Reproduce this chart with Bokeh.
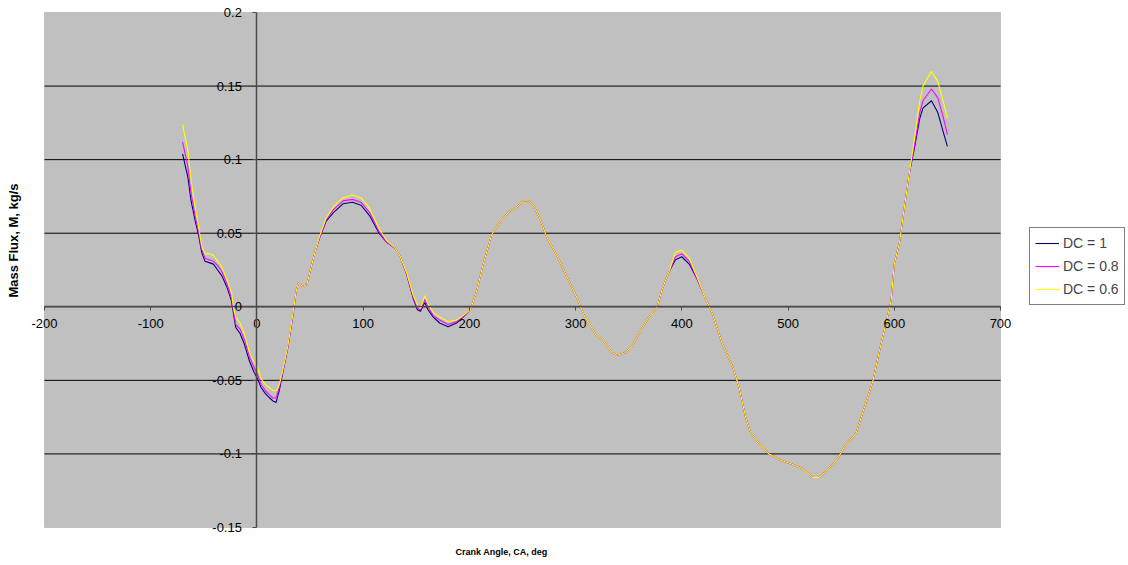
from math import pi
from bokeh.plotting import figure
from bokeh.models import Range1d, FixedTicker, Legend, LegendItem, Label, BoxAnnotation
from bokeh.embed import file_html
from bokeh.resources import INLINE

# ---------------- data ----------------
angle = [-70, -65, -62, -58, -55, -52, -49, -45, -41, -37, -33, -28, -24, -22, -20, -16,
         -12, -7, -3, 0, 4, 8, 12, 15, 18, 21, 24, 29, 34, 37, 39, 43, 47, 51, 55, 59,
         65, 72, 81, 90, 98, 106, 115, 122, 130, 135, 141, 147, 151, 154, 158, 161,
         166, 172, 180, 188, 194, 201, 207, 213, 221, 229, 238, 245, 251, 256, 261,
         267, 273, 283, 292, 302, 308, 314, 319, 326, 334, 339, 347, 353, 359, 369,
         377, 381, 388, 394, 400, 407, 415, 422, 429, 438, 448, 454, 460, 465, 473,
         482, 492, 504, 514, 523, 529, 537, 547, 554, 564, 573, 580, 586, 592, 597,
         600, 605, 609, 614, 619, 624, 627, 635, 641, 646, 650]

dc_1 = [0.104, 0.088, 0.072, 0.058, 0.049, 0.037, 0.031, 0.030, 0.029, 0.025, 0.021, 0.013,
        0.004, -0.005, -0.014, -0.018, -0.025, -0.037, -0.044, -0.048, -0.055, -0.059,
        -0.062, -0.064, -0.065, -0.057, -0.046, -0.028, -0.005, 0.011, 0.016, 0.014,
        0.015, 0.027, 0.038, 0.047, 0.058, 0.064, 0.070, 0.071, 0.069, 0.062, 0.050,
        0.044, 0.040, 0.034, 0.022, 0.006, -0.002, -0.003, 0.003, -0.002, -0.007,
        -0.011, -0.0135, -0.011, -0.007, -0.002, 0.011, 0.029, 0.049, 0.058, 0.065,
        0.068, 0.072, 0.072, 0.068, 0.059, 0.047, 0.034, 0.020, 0.005, -0.006, -0.013,
        -0.019, -0.023, -0.031, -0.033, -0.031, -0.027, -0.019, -0.007, 0.000, 0.011,
        0.024, 0.032, 0.034, 0.029, 0.018, 0.006, -0.005, -0.025, -0.041, -0.055,
        -0.075, -0.086, -0.093, -0.100, -0.104, -0.107, -0.110, -0.116, -0.116, -0.111,
        -0.103, -0.094, -0.086, -0.066, -0.050, -0.030, -0.012, 0.004, 0.029, 0.044,
        0.065, 0.090, 0.108, 0.128, 0.135, 0.140, 0.132, 0.119, 0.109]

dc_08 = [0.112, 0.095, 0.077, 0.061, 0.051, 0.039, 0.033, 0.032, 0.031, 0.028, 0.024, 0.015,
         0.006, -0.003, -0.012, -0.015, -0.022, -0.034, -0.041, -0.045, -0.053, -0.057,
         -0.060, -0.062, -0.062, -0.055, -0.045, -0.028, -0.005, 0.011, 0.016, 0.014,
         0.015, 0.027, 0.038, 0.047, 0.059, 0.066, 0.072, 0.073, 0.071, 0.064, 0.051,
         0.044, 0.040, 0.034, 0.022, 0.007, -0.001, -0.002, 0.005, 0.000, -0.006,
         -0.009, -0.012, -0.010, -0.007, -0.002, 0.011, 0.029, 0.049, 0.058, 0.065,
         0.068, 0.072, 0.072, 0.068, 0.059, 0.047, 0.034, 0.020, 0.005, -0.006, -0.013,
         -0.019, -0.023, -0.031, -0.033, -0.031, -0.027, -0.019, -0.007, 0.000, 0.011,
         0.024, 0.034, 0.036, 0.031, 0.018, 0.006, -0.005, -0.025, -0.041, -0.055,
         -0.075, -0.086, -0.093, -0.100, -0.104, -0.107, -0.110, -0.116, -0.116, -0.111,
         -0.103, -0.094, -0.086, -0.066, -0.050, -0.030, -0.012, 0.004, 0.029, 0.044,
         0.065, 0.090, 0.110, 0.132, 0.140, 0.148, 0.142, 0.129, 0.117]

dc_06 = [0.124, 0.106, 0.086, 0.067, 0.055, 0.041, 0.036, 0.036, 0.035, 0.031, 0.027, 0.018,
         0.010, -0.001, -0.007, -0.011, -0.018, -0.031, -0.037, -0.040, -0.049, -0.053,
         -0.055, -0.057, -0.057, -0.053, -0.044, -0.027, -0.004, 0.011, 0.016, 0.014,
         0.015, 0.027, 0.038, 0.048, 0.060, 0.068, 0.074, 0.076, 0.074, 0.067, 0.053,
         0.045, 0.040, 0.034, 0.023, 0.008, 0.001, -0.001, 0.0075, 0.002, -0.004,
         -0.007, -0.010, -0.009, -0.006, -0.002, 0.011, 0.029, 0.049, 0.058, 0.065,
         0.068, 0.072, 0.072, 0.068, 0.059, 0.047, 0.034, 0.020, 0.005, -0.006, -0.013,
         -0.019, -0.023, -0.031, -0.033, -0.031, -0.027, -0.019, -0.007, 0.000, 0.011,
         0.024, 0.037, 0.0385, 0.033, 0.019, 0.006, -0.005, -0.025, -0.041, -0.055,
         -0.075, -0.086, -0.093, -0.100, -0.104, -0.107, -0.110, -0.116, -0.116, -0.111,
         -0.103, -0.094, -0.086, -0.066, -0.050, -0.030, -0.012, 0.004, 0.029, 0.044,
         0.065, 0.090, 0.114, 0.140, 0.150, 0.160, 0.153, 0.140, 0.128]

series_names = ["DC = 1", "DC = 0.8", "DC = 0.6"]
x_ticks = [-200, -100, 0, 100, 200, 300, 400, 500, 600, 700]
x_tick_labels = ["-200", "-100", "0", "100", "200", "300", "400", "500", "600", "700"]
y_ticks = [-0.15, -0.1, -0.05, 0, 0.05, 0.1, 0.15, 0.2]
y_tick_labels = ["-0.15", "-0.1", "-0.05", "0", "0.05", "0.1", "0.15", "0.2"]
x_title = "Crank Angle, CA, deg"
y_title = "Mass Flux, M, kg/s"

# ---------------- layout (pixels) ----------------
W, H = 1128, 565
PX_LEFT, PX_RIGHT, PX_TOP, PX_BOTTOM = 44, 1000, 12, 527
x0, x1 = x_ticks[0], x_ticks[-1]
y0, y1 = y_ticks[0], y_ticks[-1]
sx = (PX_RIGHT - PX_LEFT) / (x1 - x0)
sy = (PX_BOTTOM - PX_TOP) / (y1 - y0)
x_range = Range1d(x0 - PX_LEFT / sx, x1 + (W - PX_RIGHT) / sx)
y_range = Range1d(y0 - (H - PX_BOTTOM) / sy, y1 + PX_TOP / sy)

FONT = "Liberation Sans"
colors = ["#000080", "#FF00FF", "#FFFF00"]

p = figure(width=W, height=H, x_range=x_range, y_range=y_range,
           output_backend="svg", toolbar_location=None,
           min_border_left=0, min_border_right=0, min_border_top=0, min_border_bottom=0)
p.background_fill_color = "white"
p.border_fill_color = "white"
p.outline_line_color = None
p.grid.visible = False

# grey plot area
p.add_layout(BoxAnnotation(left=x0, right=x1, bottom=y0, top=y1,
                           fill_color="#C0C0C0", fill_alpha=1,
                           line_color="#808080", line_width=1, level="image"))

# horizontal major gridlines (interior ticks)
grid_ticks = [t for t in y_ticks if y0 < t < y1]
p.segment(x0=[x0] * len(grid_ticks), x1=[x1] * len(grid_ticks),
          y0=grid_ticks, y1=grid_ticks, line_color="black", line_width=1,
          level="underlay")

# axes crossing at zero
p.xaxis.fixed_location = 0
p.yaxis.fixed_location = 0
p.xaxis.bounds = (x0, x1)
p.yaxis.bounds = (y0, y1)
p.xaxis.ticker = FixedTicker(ticks=x_ticks)
p.yaxis.ticker = FixedTicker(ticks=y_ticks)
p.xaxis.major_label_overrides = dict(zip(x_ticks, x_tick_labels))
p.yaxis.major_label_overrides = dict(zip(y_ticks, y_tick_labels))
for ax in (p.xaxis, p.yaxis):
    ax.axis_line_color = "#4a4a4a"
    ax.axis_line_width = 1.5
    ax.major_tick_line_color = "#4a4a4a"
    ax.major_tick_out = 4
    ax.major_tick_in = 0
    ax.minor_tick_line_color = None
    ax.major_label_text_font = FONT
    ax.major_label_text_font_size = "13px"
    ax.major_label_text_color = "black"
p.xaxis.major_label_standoff = 8
p.yaxis.major_label_standoff = 11

renderers = []
for ys, c in zip([dc_1, dc_08, dc_06], colors):
    r = p.line(angle, ys, line_color=c, line_width=1.1)
    renderers.append(r)

legend = Legend(items=[LegendItem(label=n, renderers=[r]) for n, r in zip(series_names, renderers)],
                location=(1029, H - 305))
legend.border_line_color = "black"
legend.border_line_width = 1
legend.background_fill_color = "white"
legend.background_fill_alpha = 1
legend.label_text_font = FONT
legend.label_text_font_size = "14px"
legend.glyph_width = 24
legend.glyph_height = 20
legend.label_height = 20
legend.label_standoff = 4
legend.spacing = 3
legend.padding = 5
legend.margin = 0
p.add_layout(legend)

p.add_layout(Label(x=501, y=H - 551, x_units="screen", y_units="screen", text=x_title,
                   text_align="center", text_baseline="middle", text_font=FONT,
                   text_font_style="bold", text_font_size="9px", text_color="black"))
p.add_layout(Label(x=13, y=H - 240, x_units="screen", y_units="screen", text=y_title,
                   angle=pi / 2, text_align="center", text_baseline="middle",
                   text_font=FONT, text_font_style="bold", text_font_size="13px",
                   text_color="black"))

open("out.html", "w").write(file_html(p, INLINE))
